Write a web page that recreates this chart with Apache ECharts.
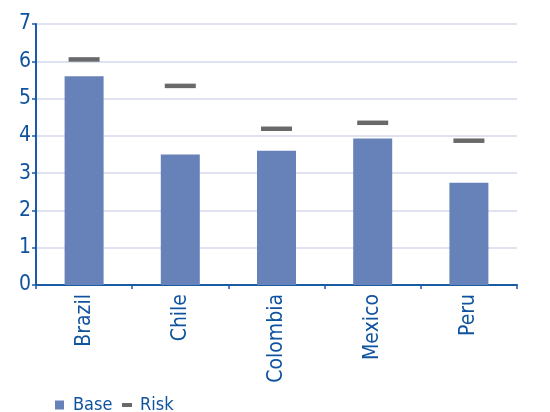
<!DOCTYPE html>
<html><head><meta charset="utf-8">
<script src="https://cdn.jsdelivr.net/npm/echarts@6/dist/echarts.min.js"></script>
<style>html,body{margin:0;padding:0;background:#fff}#c{width:550px;height:412px}</style>
</head><body><div id="c"></div>
<script>
const categories = ['Brazil','Chile','Colombia','Mexico','Peru'];
const baseValues = [5.6, 3.5, 3.6, 3.93, 2.74];
const riskValues = [6.05, 5.34, 4.19, 4.35, 3.87];
const yTicks = [0,1,2,3,4,5,6,7];

const blue = '#0f529e';
const axisBlue = '#1a5ba6';
const font = '"DejaVu Sans Condensed", "DejaVu Sans"';
const chart = echarts.init(document.getElementById('c'), null, {renderer:'canvas'});
chart.setOption({
  animation:false,
  textStyle:{fontFamily:font},
  grid:{left:36, right:33, top:24, bottom:127, containLabel:false},
  legend:[
    {data:[{name:'Base', icon:'rect'}], left:50, top:391, itemWidth:9, itemHeight:9,
     textStyle:{color:blue, fontSize:18, fontFamily:font, padding:[0,0,0,4]}},
    {data:[{name:'Risk', icon:'rect', itemStyle:{color:'#444444'}}], left:117, top:391, itemWidth:10, itemHeight:4,
     textStyle:{color:blue, fontSize:18, fontFamily:font, padding:[0,0,0,3]}}
  ],
  xAxis:{type:'category', data:categories,
    axisLine:{lineStyle:{color:axisBlue, width:2}},
    axisTick:{show:true, length:4, lineStyle:{color:axisBlue, width:1.5}},
    axisLabel:{rotate:90, color:blue, fontSize:21, margin:9, fontFamily:font}
  },
  yAxis:{type:'value', min:0, max:7, interval:1,
    axisLine:{show:true, lineStyle:{color:axisBlue, width:2}},
    axisTick:{show:true, length:4, lineStyle:{color:axisBlue, width:1.5}},
    axisLabel:{color:blue, fontSize:21, margin:5, fontFamily:font,
      formatter:v=>yTicks.includes(v)?String(v):''},
    splitLine:{lineStyle:{color:'#d3d8ec', width:1.5}}
  },
  series:[
    {name:'Base', type:'bar', data:baseValues, barWidth:39, itemStyle:{color:'#6782b9'}, z:2},
    {name:'Risk', type:'scatter', data:riskValues, symbol:'rect', symbolSize:[31,4.5],
     itemStyle:{color:'#444444'}, z:3}
  ]
});
</script></body></html>
